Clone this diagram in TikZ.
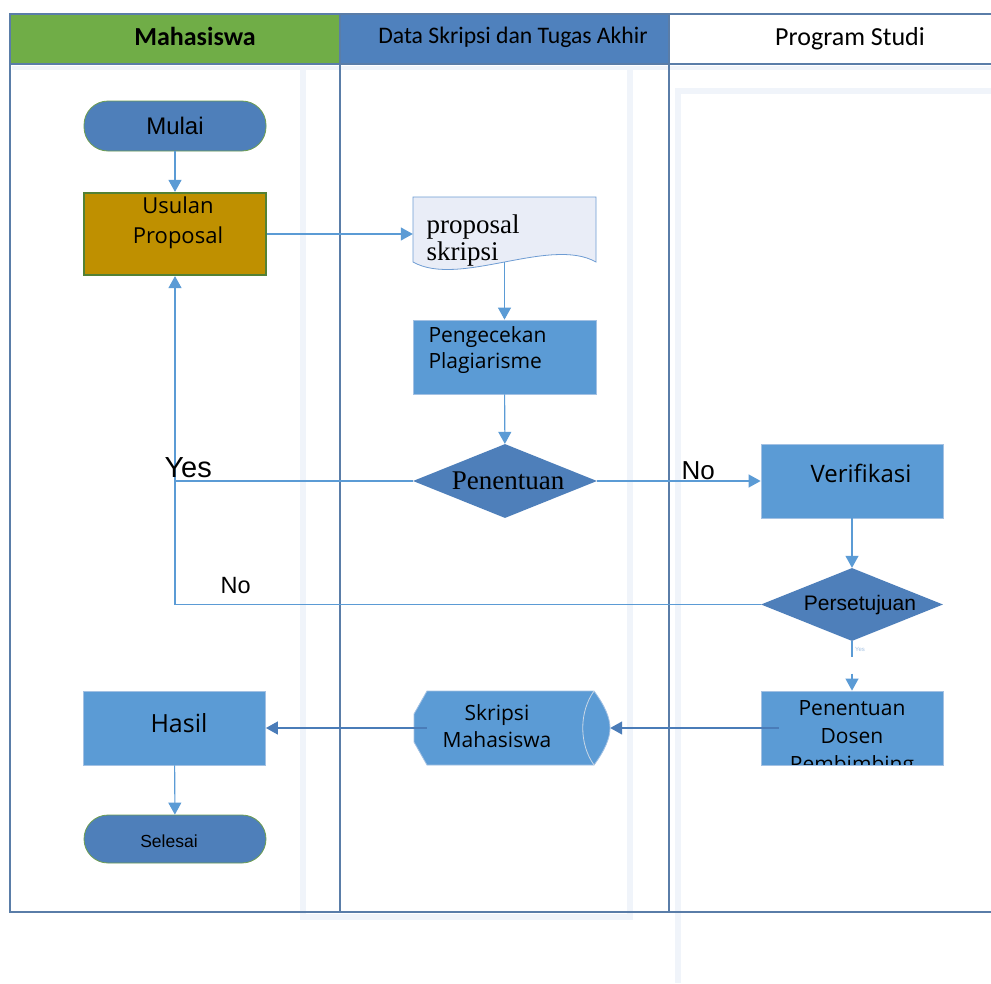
\documentclass[tikz,border=0pt]{standalone}
\usepackage{fontspec}
\usetikzlibrary{arrows.meta,calc,shapes.geometric}
\newfontfamily\fcarl{Carlito}
\newfontfamily\fari{Liberation Sans}
\newfontfamily\ftms{Liberation Serif}
\newfontfamily\fops{Open Sans}
\definecolor{hgreen}{HTML}{70AD47}
\definecolor{hblue}{HTML}{4F81BD}
\definecolor{framec}{HTML}{5A7DA8}
\definecolor{pbox}{HTML}{5B9BD5}
\definecolor{pedge}{HTML}{A3C1E3}
\definecolor{dia}{HTML}{4E7FBA}
\definecolor{gold}{HTML}{BF9000}
\definecolor{dgreen}{HTML}{538135}
\definecolor{tgreen}{HTML}{6E9E50}
\definecolor{conn}{HTML}{5B9BD5}
\definecolor{dconn}{HTML}{4A7CB8}
\definecolor{docfill}{HTML}{E9EDF7}
\definecolor{docedge}{HTML}{6E9CD3}
\definecolor{shadowc}{HTML}{F0F4FA}
\definecolor{innerc}{HTML}{C9D7E6}
\begin{document}
\begin{tikzpicture}[x=1pt,y=-1pt,
  procbox/.style={draw=pedge, line width=0.8pt, fill=pbox, minimum width=182pt, minimum height=74pt, inner sep=0pt},
  termbox/.style={draw=tgreen, line width=0.8pt, fill=dia, rounded corners=24pt, minimum width=182pt, minimum height=50pt, inner sep=0pt},
  decbox/.style={diamond, fill=dia, minimum width=184pt, minimum height=74pt, inner sep=0pt},
  arr/.style={draw=conn, line width=1.1pt, -{Triangle[width=13pt,length=12pt]}},
  arrd/.style={draw=dconn, line width=1.3pt, -{Triangle[width=13pt,length=12pt]}},
  ln/.style={draw=conn, line width=1.1pt},
  shd/.style={draw=shadowc, line width=6pt},
]
\useasboundingbox (0,0) rectangle (991,983);
\fill[white] (0,0) rectangle (991,983);
% faint shadows
\draw[shd] (303,68) -- (303,917) -- (630,917) -- (630,68);
\draw[shd] (678,983) -- (678,91) -- (991,91);
\draw[draw=shadowc, line width=4pt] (12,68) -- (991,68);
% headers
\fill[hgreen] (10,14) rectangle (340,64);
\fill[hblue] (340,14) rectangle (669,64);
\draw[framec, line width=1.5pt] (991,14) -- (10,14) -- (10,912) -- (991,912);
\draw[framec, line width=1.5pt] (10,64) -- (991,64);
\draw[framec, line width=1.5pt] (340,14) -- (340,912);
\draw[framec, line width=1.5pt] (669,14) -- (669,912);
\node[anchor=base, font=\fcarl\bfseries\fontsize{26}{28}\selectfont] (h1) at (195,45) {Mahasiswa};
\node[anchor=base, font=\fcarl\fontsize{23.7}{26}\selectfont] (h2) at (513,43) {Data Skripsi dan Tugas Akhir};
\node[anchor=base, font=\fcarl\fontsize{26}{28}\selectfont] (h3) at (850,45) {Program Studi};
% Mahasiswa lane
\node[termbox] (mulai) at (175,126) {};
\node[anchor=base, font=\fari\fontsize{24}{26}\selectfont] (mulait) at (175,134) {Mulai};
\node[draw=dgreen, line width=2.2pt, fill=gold, minimum width=182pt, minimum height=82pt, inner sep=0pt] (usul) at (175,234) {};
\node[anchor=base, align=center, font=\fops\fontsize{22}{30}\selectfont] (usult) at (178,243) {Usulan\\ Proposal};
\node[procbox] (hasil) at (174.5,728) {};
\node[anchor=base, font=\fops\fontsize{25}{28}\selectfont] (hasilt) at (179,732) {Hasil};
\node[termbox, minimum height=48pt] (selesai) at (175,839) {};
\node[anchor=base, font=\fari\fontsize{17.5}{20}\selectfont] (selesait) at (169,847) {Selesai};
% Data lane
\node[minimum width=183pt, minimum height=65pt, inner sep=0pt] (prop) at (504.5,229.5) {};
\draw[docedge, fill=docfill, line width=0.8pt] (413,197) -- (596,197) -- (596,262)
   .. controls (550,236) and (459,288) .. (413,262) -- cycle;
\node[anchor=base west, align=left, font=\ftms\fontsize{27}{27}\selectfont] (propt) at (423,260) {proposal\\ skripsi};
\node[procbox, minimum width=183pt] (peng) at (504.5,357) {};
\node[anchor=base west, align=left, font=\fops\fontsize{21}{26}\selectfont] (pengt) at (425,368) {Pengecekan\\ Plagiarisme};
\node[decbox] (pen) at (505,481) {};
\node[anchor=base, font=\ftms\fontsize{27}{28}\selectfont] (pent) at (508,489) {Penentuan};
\node[minimum width=196pt, minimum height=74pt, inner sep=0pt] (skr) at (512,728) {};
\draw[draw=pedge, line width=0.8pt, fill=pbox] (427,691) -- (594,691)
   .. controls (605,706) and (610,718) .. (610,728)
   .. controls (610,738) and (605,750) .. (594,765)
   -- (427,765) -- (414,742) -- (414,714) -- cycle;
\draw[innerc, line width=0.8pt] (594,691) .. controls (579,712) and (579,744) .. (594,765);
\node[anchor=base, align=center, font=\fops\fontsize{21}{27}\selectfont] (skrt) at (497,747) {Skripsi\\ Mahasiswa};
% Program Studi lane
\node[procbox] (ver) at (852,481) {};
\node[anchor=base, font=\fops\fontsize{24}{26}\selectfont] (vert) at (861,482) {Verifikasi};
\node[decbox, minimum width=182pt, minimum height=73pt] (pers) at (852,604.5) {};
\node[anchor=base, font=\fari\fontsize{21}{22}\selectfont] (perst) at (860,610) {Persetujuan};
\node[procbox] (pdb) at (852,728) {};
\begin{scope}
\clip (761.5,691.5) rectangle (942.5,764.5);
\node[anchor=base, align=center, font=\fops\fontsize{21}{28}\selectfont] (pdbt) at (852,771) {Penentuan\\ Dosen\\ Pembimbing};
\end{scope}
% connectors
\draw[arr] (mulai) -- (usul);
\draw[arr] (usul.east) -- (usul.east -| prop.west);
\draw[arr] (prop.south) -- (peng.north);
\draw[arr] (peng) -- (pen);
\draw[arr] (pen.west) -| (usul.south);
\draw[arr] (pen.east) -- (ver.west);
\draw[arr] (ver) -- (pers);
\draw[ln] (pers.west) -| (pen.west -| usul.south);
\draw[ln] (pers.south) -- ++(0,16);
\draw[arr] ($(pdb.north)+(0,-17)$) -- (pdb.north);
\draw[arrd] ([xshift=18pt]pdb.west) -- (skr.east);
\draw[arrd] ([xshift=13pt]skr.west) -- (hasil.east);
\draw[arr] (hasil) -- (selesai);
% labels
\node[anchor=base west, font=\fari\fontsize{29}{30}\selectfont] (yes1) at (161,477) {Yes};
\node[anchor=base west, font=\fari\fontsize{26}{28}\selectfont] (no1) at (678,479) {No};
\node[anchor=base west, font=\fari\fontsize{23.5}{26}\selectfont] (no2) at (217,593) {No};
\node[anchor=base, font=\fari\fontsize{6}{7}\selectfont, text=pedge] (yes2) at (860,651) {Yes};
\end{tikzpicture}
\end{document}
